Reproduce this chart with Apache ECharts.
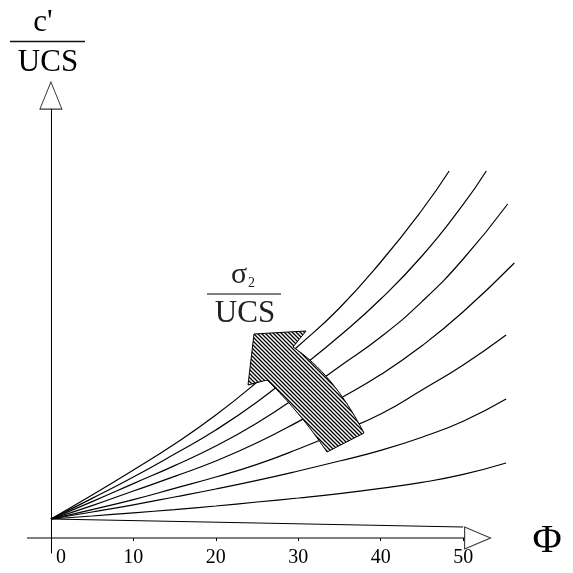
<!DOCTYPE html>
<html>
<head>
<meta charset="utf-8">
<script src="https://cdn.jsdelivr.net/npm/echarts@6/dist/echarts.min.js"></script>
<style>
  html, body { margin: 0; padding: 0; background: #fff; }
  #chart { width: 573px; height: 573px; }
</style>
</head>
<body>
<div id="chart"></div>
<script>
// Friction angle tick labels
const phiTicks = [0, 10, 20, 30, 40, 50];

// c'/UCS against Φ, one list per σ2/UCS level (lowest level first)
const level0 = [[0, 0.0475], [50, 0.0275]];
const level1 = [[0, 0.0475], [5, 0.055], [10, 0.063], [15, 0.071], [20, 0.08], [25, 0.09], [30, 0.1], [35, 0.111], [40, 0.124], [45, 0.139], [50, 0.159], [55.2, 0.1875]];
const level2 = [[0, 0.0475], [5, 0.065], [10, 0.083], [15, 0.1025], [20, 0.1225], [25, 0.144], [30, 0.1675], [35, 0.1925], [40, 0.219], [45, 0.252], [50, 0.292], [55.2, 0.3475]];
const level3 = [[0, 0.0475], [5, 0.071], [10, 0.096], [15, 0.124], [20, 0.1525], [25, 0.184], [30, 0.2225], [35, 0.265], [40, 0.31], [45, 0.37], [50, 0.4325], [55.2, 0.5075]];
const level4 = [[0, 0.0475], [5, 0.081], [10, 0.1175], [15, 0.154], [20, 0.1925], [25, 0.238], [30, 0.291], [35, 0.348], [40, 0.4085], [45, 0.4805], [50, 0.5655], [56.2, 0.6875]];
const level5 = [[0, 0.0475], [5, 0.091], [10, 0.136], [15, 0.181], [20, 0.23], [25, 0.2875], [30, 0.355], [35, 0.429], [40, 0.5025], [45, 0.591], [50, 0.6975], [55.4, 0.835]];
const level6 = [[0, 0.0475], [5, 0.099], [10, 0.1525], [15, 0.21], [20, 0.27], [25, 0.34], [30, 0.421], [35, 0.505], [40, 0.5975], [45, 0.705], [50, 0.834], [52.8, 0.9175]];
const level7 = [[0, 0.0475], [5, 0.1075], [10, 0.17], [15, 0.235], [20, 0.3075], [25, 0.39], [30, 0.48], [35, 0.575], [40, 0.69], [45, 0.82], [48.3, 0.9175]];

const levels = [level0, level1, level2, level3, level4, level5, level6, level7];

// horizontal axis baseline and the open triangles at both axis ends
const xBaseline = [[-2.9, 0], [50.2, 0]];
const xArrowAt = [[51.75, 0]];
const yArrowAt = [[0, 1.106]];

const SERIF = '"Liberation Serif", "Times New Roman", serif';

// hatch texture for the σ2 arrow
function hatch() {
  const c = document.createElement('canvas');
  c.width = 4; c.height = 4;
  const g = c.getContext('2d');
  g.fillStyle = '#fff';
  g.fillRect(0, 0, 4, 4);
  g.strokeStyle = '#000';
  g.lineWidth = 1.3;
  g.beginPath();
  g.moveTo(-1, -1); g.lineTo(5, 5);
  g.moveTo(-1, 3); g.lineTo(1, 5);
  g.moveTo(3, -1); g.lineTo(5, 1);
  g.stroke();
  return c;
}

// quadratic curve sampled into points
function quad(p0, c, p1, n) {
  const out = [];
  for (let i = 1; i <= n; i++) {
    const t = i / n, u = 1 - t;
    out.push([u * u * p0[0] + 2 * u * t * c[0] + t * t * p1[0], u * u * p0[1] + 2 * u * t * c[1] + t * t * p1[1]]);
  }
  return out;
}

// outline of the curved block arrow
function arrowOutline() {
  const pts = [[254, 334], [306, 331], [293, 347]];
  quad([293, 347], [333.5, 374], [364, 433], 16).forEach(p => pts.push(p));
  pts.push([327, 452]);
  quad([327, 452], [300, 412], [267, 380], 16).forEach(p => pts.push(p));
  pts.push([248, 385]);
  return pts;
}

const chart = echarts.init(document.getElementById('chart'), null, { renderer: 'canvas' });

const lineSeries = levels.map(d => ({
  type: 'line',
  data: d,
  smooth: true,
  symbol: 'none',
  clip: false,
  lineStyle: { color: '#000', width: 1.2 },
  silent: true,
  z: 2
}));

chart.setOption({
  animation: false,
  backgroundColor: '#fff',
  grid: { left: 27, right: 56.2, top: 109, bottom: 20, containLabel: false, outerBoundsMode: 'none' },
  xAxis: {
    type: 'value',
    min: -2.9,
    max: 56.5,
    axisLine: { show: false, onZero: true },
    axisTick: { show: true, customValues: phiTicks, length: 3, lineStyle: { color: '#000' } },
    axisLabel: {
      show: true,
      customValues: phiTicks,
      margin: -5,
      color: '#000',
      fontFamily: SERIF,
      fontSize: 20,
      formatter: v => (v === 0 ? '{z|0}' : String(v)),
      rich: { z: { fontFamily: SERIF, fontSize: 20, color: '#000', padding: [0, 0, 0, 20] } }
    },
    splitLine: { show: false }
  },
  yAxis: {
    type: 'value',
    min: -0.0375,
    max: 1.0725,
    axisLine: { show: true, onZero: true, lineStyle: { color: '#000', width: 1 } },
    axisTick: { show: false },
    axisLabel: { show: false },
    splitLine: { show: false }
  },
  series: lineSeries.concat([
    {
      type: 'line',
      data: xBaseline,
      symbol: 'none',
      clip: false,
      silent: true,
      lineStyle: { color: '#000', width: 1 },
      z: 1
    },
    {
      type: 'scatter',
      data: xArrowAt,
      symbol: 'triangle',
      symbolRotate: -90,
      symbolSize: [22, 26],
      clip: false,
      silent: true,
      itemStyle: { color: '#fff', borderColor: '#000', borderWidth: 1 },
      z: 5
    },
    {
      type: 'scatter',
      data: yArrowAt,
      symbol: 'triangle',
      symbolSize: [22, 27],
      clip: false,
      silent: true,
      itemStyle: { color: '#fff', borderColor: '#000', borderWidth: 1 },
      z: 5
    }
  ]),
  graphic: [
    // y-axis title c'/UCS
    { type: 'text', z: 10, style: { text: "c'", x: 43, y: 23, fill: '#000', font: '31px ' + SERIF, align: 'center', verticalAlign: 'middle' } },
    { type: 'line', z: 10, shape: { x1: 10, y1: 41.5, x2: 85, y2: 41.5 }, style: { stroke: '#111', lineWidth: 1.5 } },
    { type: 'text', z: 10, style: { text: 'UCS', x: 48, y: 63, fill: '#000', font: '31px ' + SERIF, align: 'center', verticalAlign: 'middle' } },
    // x-axis title Φ
    { type: 'text', z: 10, style: { text: 'Φ', x: 547, y: 541, fill: '#000', font: '40px ' + SERIF, align: 'center', verticalAlign: 'middle' } },
    // σ2/UCS label
    {
      type: 'text', z: 10,
      style: {
        text: '{s|σ}{n|2}', x: 243, y: 275, align: 'center', verticalAlign: 'middle',
        rich: {
          s: { font: '30px ' + SERIF, fill: '#222' },
          n: { font: '14px ' + SERIF, fill: '#222', verticalAlign: 'bottom', padding: [8, 0, 0, 1] }
        }
      }
    },
    { type: 'line', z: 10, shape: { x1: 207, y1: 294, x2: 281, y2: 294 }, style: { stroke: '#555', lineWidth: 1.5 } },
    { type: 'text', z: 10, style: { text: 'UCS', x: 245, y: 314, fill: '#222', font: '31px ' + SERIF, align: 'center', verticalAlign: 'middle' } },
    // hatched curved arrow
    {
      type: 'polygon', z: 20,
      shape: { points: arrowOutline() },
      style: { fill: { image: hatch(), repeat: 'repeat' }, stroke: '#000', lineWidth: 1 }
    }
  ]
});
</script>
</body>
</html>
